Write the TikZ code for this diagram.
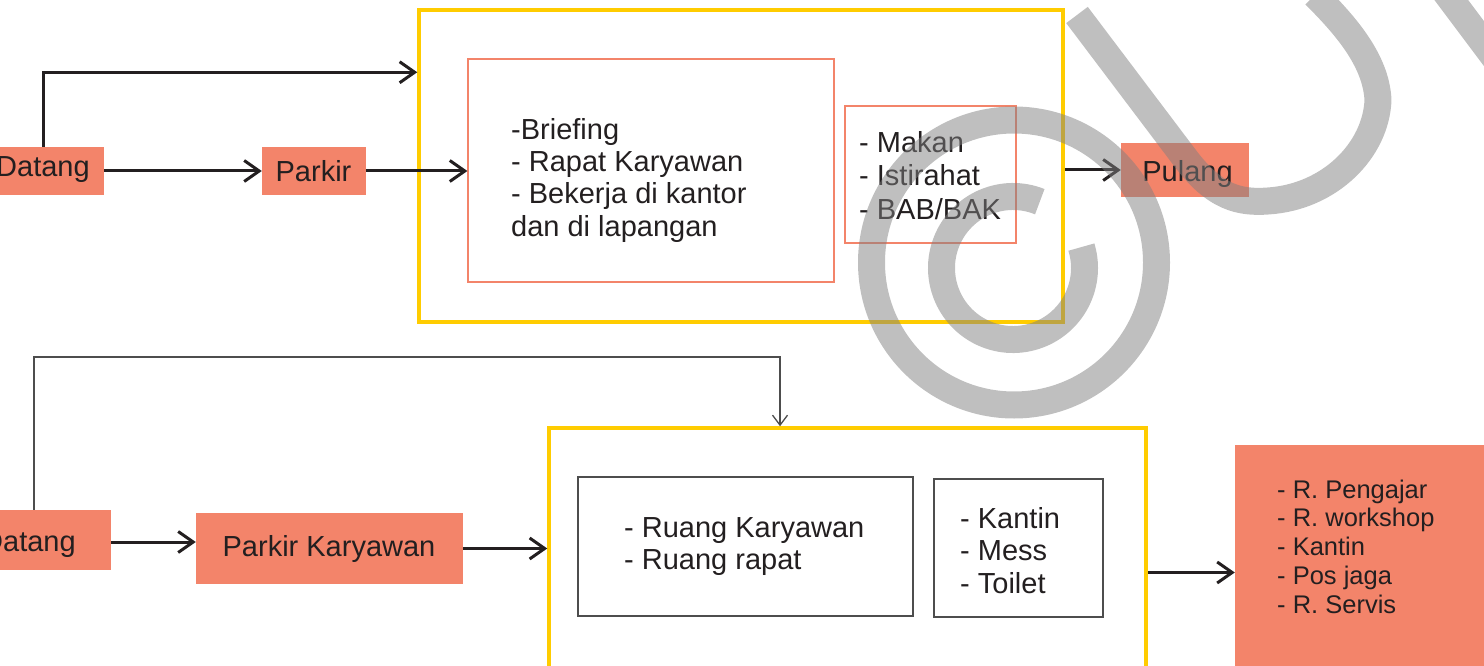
\documentclass[tikz,border=0pt]{standalone}
\usepackage{fontspec}
\setmainfont{Liberation Sans}
\usetikzlibrary{arrows.meta}
\definecolor{salmon}{RGB}{243,132,106}
\definecolor{gold}{RGB}{255,204,0}
\definecolor{ink}{RGB}{35,31,32}
\definecolor{frame}{RGB}{77,77,77}
\definecolor{stamp}{RGB}{128,128,128}

\begin{document}
\begin{tikzpicture}[x=1pt,y=-1pt,
  fillbox/.style={fill=salmon, draw=none, inner sep=0pt},
  group/.style={draw=gold, line width=3.5pt, inner sep=0pt},
  thinframe/.style={draw=salmon, line width=1.2pt, inner sep=0pt},
  greyframe/.style={draw=frame, line width=1.4pt, inner sep=0pt},
  txt/.style={inner sep=0pt, text=ink, font=\fontsize{29}{32.3}\selectfont},
  % multi-line lists are placed by the baseline of their last line
  list/.style={txt, anchor=base west, align=left},
  arr/.style={draw=ink, line width=3pt, -{Straight Barb[length=15pt,width=21pt]}},
  thinarr/.style={draw=frame, line width=1.3pt, -{Straight Barb[length=10pt,width=15pt]}},
  stroke/.style={draw=stamp, line width=27pt, line cap=butt},
]
\useasboundingbox (0,0) rectangle (1484,666);
\clip (0,0) rectangle (1484,666);

% ---------- upper flow ----------
\node[fillbox, minimum width=122pt, minimum height=48pt] (datA) at (43,171) {};
\node[fillbox, minimum width=104pt, minimum height=48pt] (parkA) at (314,171) {};
\node[group, minimum width=644pt, minimum height=312pt] (yelA) at (741,166) {};
\node[thinframe, minimum width=366pt, minimum height=223pt] (actA) at (651,170.5) {};
\node[thinframe, minimum width=171pt, minimum height=137pt] (restA) at (930.5,174.5) {};
\node[fillbox, minimum width=128pt, minimum height=54pt] (pulA) at (1185,170) {};

\node[txt, anchor=base] (tDatA) at (43,177) {Datang};
\node[txt, anchor=base] (tParkA) at (313.5,181.5) {Parkir};
\node[list] (tActA) at (511,236) {-Briefing\\- Rapat Karyawan\\- Bekerja di kantor\\dan di lapangan};
\node[list, font=\fontsize{29}{33.5}\selectfont] (tRestA) at (859,219) {- Makan\\- Istirahat\\- BAB/BAK};
\node[txt, anchor=base] (tPulA) at (1187.5,182) {Pulang};

\draw[arr] (datA.east) -- (parkA.west);
\draw[arr] (datA.north) |- ([yshift=-64pt]yelA.north west);
\draw[arr] (parkA.east) -- (parkA.east -| actA.west);
\draw[arr] (yelA.east |- pulA.west) -- (pulA.west);

% ---------- lower flow ----------
\node[fillbox, minimum width=164pt, minimum height=60pt] (datB) at (29,540) {};
\node[fillbox, minimum width=267pt, minimum height=71pt] (parkB) at (329.5,548.5) {};
\node[group, minimum width=597pt, minimum height=272pt] (yelB) at (847.5,564) {};
\node[greyframe, minimum width=335pt, minimum height=139pt] (roomB) at (745.5,546.5) {};
\node[greyframe, minimum width=169pt, minimum height=138pt] (facB) at (1018.5,548) {};
\node[fillbox, minimum width=285pt, minimum height=255pt] (outB) at (1377.5,572.5) {};

\node[txt, anchor=base] (tDatB) at (29,551) {Datang};
\node[txt, anchor=base] (tParkB) at (329,556) {Parkir Karyawan};
\node[list, font=\fontsize{29}{32.5}\selectfont] (tRoomB) at (624,569.5) {- Ruang Karyawan\\- Ruang rapat};
\node[list, font=\fontsize{29}{32.5}\selectfont] (tFacB) at (960,593) {- Kantin\\- Mess\\- Toilet};
\node[list, font=\fontsize{25.5}{28.8}\selectfont] (tOutB) at (1277,613.2) {- R. Pengajar\\- R. workshop\\- Kantin\\- Pos jaga\\- R. Servis};

\coordinate (bendB) at (780,357);
\draw[arr] ([yshift=-2pt]datB.east) -- ([yshift=-2pt]datB.east -| parkB.west);
\draw[arr] (parkB.east) -- (parkB.east -| yelB.west);
\draw[arr] (yelB.east |- outB.west) -- (outB.west);
\draw[thinarr] ([xshift=5pt]datB.north) |- (bendB) -- (bendB |- yelB.north);

% ---------- stamp ----------
\begin{scope}[transparency group, opacity=0.5]
  \draw[stroke] (1014,262.5) circle[radius=142.5pt];
  \draw[stroke] ([shift={(68:71.5pt)}]1013,268) arc[start angle=68, end angle=377, radius=71.5pt];
  \draw[stroke, line join=round] (1077,15) -- (1185,158)
    .. controls (1215,198) and (1240,203) .. (1268,201)
    .. controls (1330,197) and (1376,150) .. (1378,100)
    .. controls (1376,60) and (1345,25) .. (1315,-5);
  \draw[stroke] (1440,-15) -- (1530,105);
\end{scope}
\end{tikzpicture}
\end{document}
